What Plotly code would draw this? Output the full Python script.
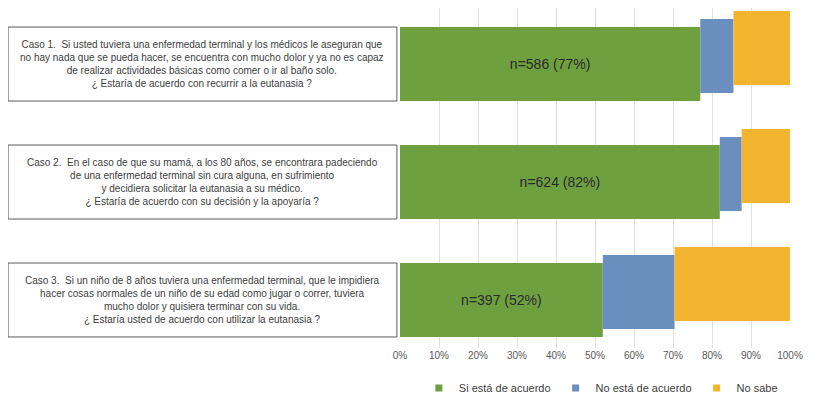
import plotly.graph_objects as go
import numpy as np

# data
cases = [
    "Caso 1.  Si usted tuviera una enfermedad terminal y los médicos le aseguran que<br>"
    "no hay nada que se pueda hacer, se encuentra con mucho dolor y ya no es capaz<br>"
    "de realizar actividades básicas como comer o ir al baño solo.<br>"
    "¿ Estaría de acuerdo con recurrir a la eutanasia ?",
    "Caso 2.  En el caso de que su mamá, a los 80 años, se encontrara padeciendo<br>"
    "de una enfermedad terminal sin cura alguna, en sufrimiento<br>"
    "y decidiera solicitar la eutanasia a su médico.<br>"
    "¿ Estaría de acuerdo con su decisión y la apoyaría ?",
    "Caso 3.  Si un niño de 8 años tuviera una enfermedad terminal, que le impidiera<br>"
    "hacer cosas normales de un niño de su edad como jugar o correr, tuviera<br>"
    "mucho dolor y quisiera terminar con su vida.<br>"
    "¿ Estaría usted de acuerdo con utilizar la eutanasia ?",
]
n_si = [586, 624, 397]
si_acuerdo = [77, 82, 52]
no_acuerdo = [8.5, 5.6, 18.4]
no_sabe = [14.5, 12.4, 29.6]

series_names = ["Si está de acuerdo", "No está de acuerdo", "No sabe"]
colors = ["#6fa040", "#6a8ebd", "#f3b52f"]
tick_vals = list(range(0, 101, 10))
tick_text = [f"{v}%" for v in tick_vals]

pos = np.arange(len(cases))
bar_w = 0.627
step = 0.068  # each segment sits a bit higher than the previous one

values = [si_acuerdo, no_acuerdo, no_sabe]
bases = [np.zeros(len(cases)), np.array(si_acuerdo), np.array(si_acuerdo) + np.array(no_acuerdo)]
labels = [f"n={n} ({p}%)" for n, p in zip(n_si, si_acuerdo)]

fig = go.Figure()
for k, (name, vals, base, col) in enumerate(zip(series_names, values, bases, colors)):
    fig.add_trace(go.Bar(
        x=vals, y=pos, base=base, orientation="h",
        width=bar_w, offset=-bar_w / 2 - k * step,
        marker=dict(color=col, line=dict(width=0)),
        text=labels if k == 0 else None,
        textposition="inside" if k == 0 else None,
        insidetextanchor="middle",
        textfont=dict(size=14, color="#2b2b2b"),
        showlegend=False, hoverinfo="x",
    ))
    # small square legend markers
    fig.add_trace(go.Scatter(
        x=[None], y=[None], mode="markers", name=name,
        marker=dict(symbol="square", size=7, color=col),
    ))

# question boxes to the left of the bars
for i, txt in enumerate(cases):
    fig.add_shape(type="rect", xref="paper", yref="y",
                  x0=-1.005, x1=-0.008, y0=i - bar_w / 2, y1=i + bar_w / 2,
                  line=dict(color="#5a5a5a", width=1), fillcolor="white")
    fig.add_annotation(xref="paper", yref="y", x=-0.507, y=i, text=txt,
                       showarrow=False, align="center", xanchor="center",
                       font=dict(size=10, color="#404040"))

fig.update_layout(
    width=813, height=410,
    margin=dict(l=392, r=31, t=0, b=70),
    barmode="overlay",
    plot_bgcolor="white", paper_bgcolor="white",
    font=dict(family="Arial, Liberation Sans, sans-serif", color="#404040"),
    legend=dict(orientation="h", x=0.515, xanchor="center",
                yref="container", y=0.073, yanchor="middle",
                font=dict(size=11, color="#404040")),
)
fig.update_xaxes(range=[0, 100], tickmode="array", tickvals=tick_vals, ticktext=tick_text,
                 showgrid=True, gridcolor="#e0e0e0", gridwidth=1, zeroline=False,
                 showline=False, tickfont=dict(size=10, color="#595959"))
fig.update_yaxes(range=[2.407, -0.475], showticklabels=False, showgrid=False,
                 zeroline=False, showline=False)

fig.write_html("out.html")
